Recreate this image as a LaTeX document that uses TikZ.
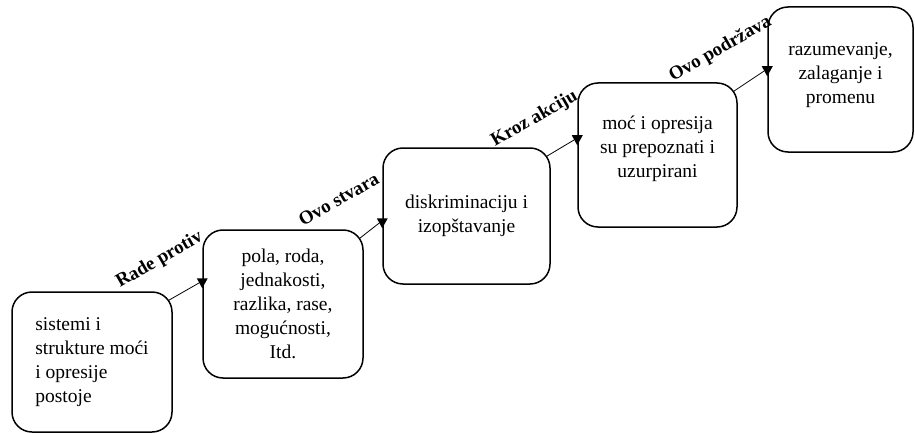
\documentclass[tikz,border=0pt]{standalone}
\usepackage{fontspec}
\setmainfont{Liberation Serif}
\usetikzlibrary{calc}
\begin{document}
\begin{tikzpicture}[x=1pt,y=1pt,
  stepbox/.style={draw, line width=1.5pt, rounded corners=20pt, align=center,
    font=\fontsize{19.5}{24}\selectfont, inner sep=0pt},
  lbl/.style={font=\fontsize{19}{22}\selectfont\bfseries, rotate=30,
    anchor=base west, inner sep=0pt},
  linkline/.style={line width=0.8pt},
  headfill/.style={fill=black}]
\useasboundingbox (0,0) rectangle (915,-433);

% the five stages
\node[stepbox, minimum width=160pt, minimum height=140pt, align=left] (b1) at (92,-362)
  {sistemi i\\strukture moći\\i opresije\\postoje};
\node[stepbox, minimum width=160pt, minimum height=148pt] (b2) at (283,-304)
  {pola, roda,\\jednakosti,\\razlika, rase,\\mogućnosti,\\Itd.};
\node[stepbox, minimum width=167pt, minimum height=136pt] (b3) at (466.5,-216)
  {diskriminaciju i\\izopštavanje};
\node[stepbox, minimum width=159pt, minimum height=144pt, text depth=17pt] (b4) at (657.5,-155)
  {moć i opresija\\su prepoznati i\\uzurpirani};
\node[stepbox, minimum width=145pt, minimum height=145pt, text depth=13pt] (b5) at (840.5,-79.5)
  {razumevanje,\\zalaganje i\\promenu};

% arrow heads sit on the left edge of the following box
\coordinate (t1) at ($(b2.north west)+(0,-59)$);
\coordinate (t2) at ($(b3.north west)+(0,-81)$);
\coordinate (t3) at ($(b4.north west)+(0,-63)$);
\coordinate (t4) at ($(b5.north west)+(0,-70)$);

% connectors
\foreach \a/\t in {b1/t1, b2/t2, b3/t3, b4/t4}{
  \draw[linkline] ($(\a.north east)+(-4,-9)$) -- ($(\t)+(-2,6)$);
  \fill[headfill] (\t) -- ++(-5.5,10) -- ++(11,0) -- cycle;
}

% connector labels
\node[lbl] (l1) at (120,-288) {Rade protiv};
\node[lbl] (l2) at (303,-227) {Ovo stvara};
\node[lbl] (l3) at (495,-147) {Kroz akciju};
\node[lbl] (l4) at (673,-82) {Ovo podržava};
\end{tikzpicture}
\end{document}
